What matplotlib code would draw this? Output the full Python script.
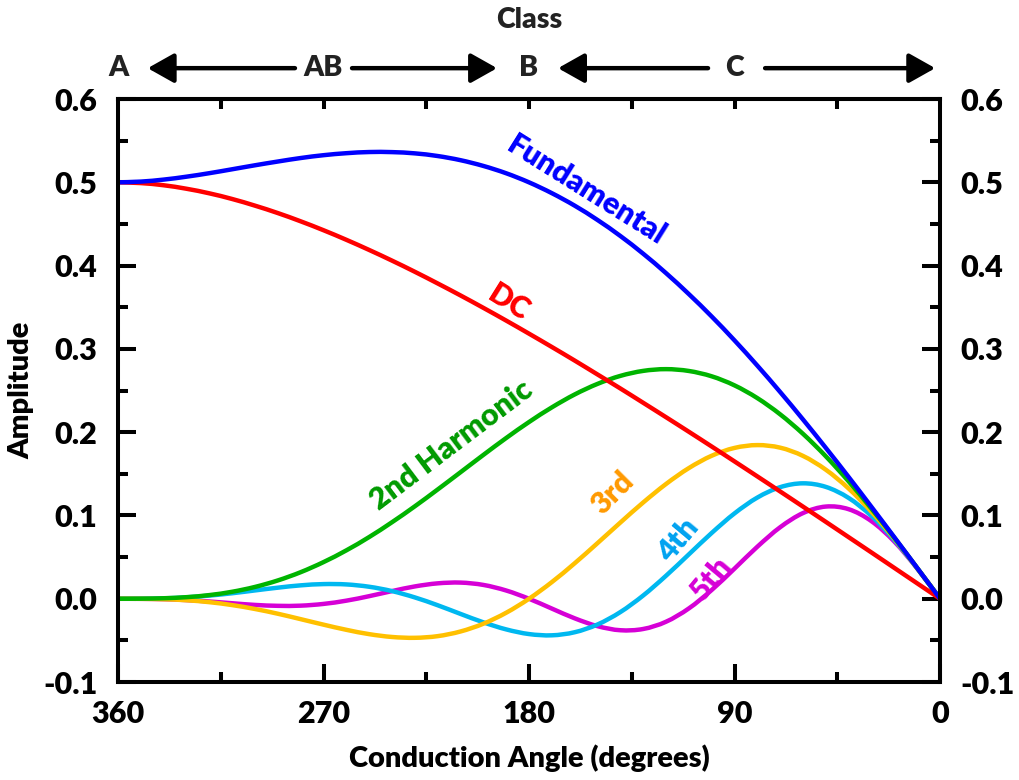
import matplotlib.pyplot as plt
import matplotlib.transforms as mtransforms
from matplotlib.path import Path
from matplotlib.patches import PathPatch
from matplotlib.ticker import MultipleLocator, FormatStrFormatter

# conduction angle (degrees) and normalised harmonic amplitudes
angle = [0, 10, 20, 30, 40, 50, 60, 70, 80, 90, 100, 110, 120, 130, 140, 150, 160, 170, 180,
         190, 200, 210, 220, 230, 240, 250, 260, 270, 280, 290, 300, 310, 320, 330, 340, 350, 360]

dc = [0, .0185, .0370, .0555, .0739, .0923, .1106, .1288, .1469, .1649, .1828, .2005, .2180,
      .2353, .2525, .2693, .2860, .3023, .3183, .3340, .3493, .3642, .3786, .3926, .4060, .4188,
      .4310, .4425, .4532, .4631, .4720, .4800, .4868, .4923, .4965, .4991, .5000]

fund = [0, .0370, .0738, .1102, .1461, .1811, .2152, .2482, .2799, .3102, .3389, .3658, .3910,
        .4143, .4356, .4548, .4720, .4870, .5000, .5109, .5197, .5266, .5316, .5348, .5363, .5364,
        .5350, .5326, .5292, .5250, .5205, .5157, .5110, .5068, .5033, .5009, .5000]

h2 = [0, .0369, .0732, .1080, .1408, .1710, .1980, .2214, .2409, .2562, .2671, .2735, .2757,
      .2736, .2676, .2580, .2453, .2298, .2122, .1930, .1727, .1519, .1312, .1110, .0919, .0741,
      .0581, .0440, .0319, .0220, .0142, .0084, .0044, .0019, .0006, .0001, 0]

h3 = [0, .0368, .0721, .1043, .1323, .1549, .1715, .1814, .1845, .1811, .1717, .1569, .1378,
      .1156, .0915, .0668, .0426, .0200, 0, -.0168, -.0300, -.0393, -.0449, -.0469, -.0459,
      -.0425, -.0373, -.0311, -.0245, -.0180, -.0123, -.0076, -.0041, -.0018, -.0006, -.0001, 0]

h4 = [0, .0366, .0705, .0993, .1210, .1343, .1386, .1340, .1215, .1025, .0790, .0533, .0276,
      .0039, -.0160, -.0309, -.0402, -.0439, -.0424, -.0368, -.0283, -.0182, -.0078, .0016,
      .0092, .0144, .0172, .0176, .0161, .0133, .0100, .0066, .0038, .0017, .0005, .0001, 0]

h5 = [0, .0363, .0686, .0931, .1075, .1107, .1029, .0859, .0625, .0362, .0105, -.0116, -.0276,
      -.0363, -.0378, -.0329, -.0235, -.0118, 0, .0099, .0166, .0194, .0185, .0148, .0092, .0031,
      -.0023, -.0062, -.0083, -.0085, -.0074, -.0054, -.0033, -.0016, -.0005, -.0001, 0]

plt.rcParams['font.family'] = ['Lato', 'DejaVu Sans']
plt.rcParams['font.weight'] = 'heavy'
plt.rcParams['axes.labelweight'] = 'heavy'


def smooth_line(ax, xs, ys, color, lw, z):
    # Catmull-Rom style cubic Bezier through the points (like a spreadsheet "smoothed line")
    pts = list(zip(xs, ys))
    n = len(pts)
    verts = [pts[0]]
    codes = [Path.MOVETO]
    for i in range(n - 1):
        p0 = pts[i - 1] if i > 0 else pts[i]
        p1 = pts[i]
        p2 = pts[i + 1]
        p3 = pts[i + 2] if i + 2 < n else pts[i + 1]
        c1 = (p1[0] + (p2[0] - p0[0]) / 6, p1[1] + (p2[1] - p0[1]) / 6)
        c2 = (p2[0] - (p3[0] - p1[0]) / 6, p2[1] - (p3[1] - p1[1]) / 6)
        verts += [c1, c2, p2]
        codes += [Path.CURVE4] * 3
    ax.add_patch(PathPatch(Path(verts, codes), facecolor='none', edgecolor=color,
                           linewidth=lw, capstyle='round', joinstyle='round', zorder=z))


fig = plt.figure(figsize=(10.19, 7.8), dpi=100)
ax = fig.add_axes([0.1158, 0.1256, 0.8067, 0.7474])

lw = 3.2
smooth_line(ax, angle, h5, '#D600D6', lw, 3)
smooth_line(ax, angle, h4, '#00B8F0', lw, 4)
smooth_line(ax, angle, h3, '#FFC000', lw, 5)
smooth_line(ax, angle, h2, '#00B400', lw, 6)
smooth_line(ax, angle, dc, '#FF0000', lw, 7)
smooth_line(ax, angle, fund, '#0000FF', lw, 8)

ax.set_xlim(360, 0)
ax.set_ylim(-0.1, 0.6)
ax.xaxis.set_major_locator(MultipleLocator(90))
ax.xaxis.set_minor_locator(MultipleLocator(45))
ax.yaxis.set_major_locator(MultipleLocator(0.1))
ax.yaxis.set_minor_locator(MultipleLocator(0.05))
ax.yaxis.set_major_formatter(FormatStrFormatter('%.1f'))

for sp in ax.spines.values():
    sp.set_linewidth(2.9)
    sp.set_zorder(10)

ax.tick_params(which='both', direction='in', width=2.9, labelsize=22,
               left=True, right=True, labelright=True, top=False)
ax.tick_params(which='major', length=13)
ax.tick_params(which='minor', length=7.5)
ax.tick_params(axis='y', which='major', pad=15)
ax.tick_params(axis='x', which='major', pad=13)

top = ax.secondary_xaxis('top')
top.set_xticks([315, 270, 225, 180, 135, 90, 45])
top.tick_params(direction='in', length=7.5, width=2.9, labeltop=False)
top.spines['top'].set_linewidth(2.9)

ax.set_xlabel('Conduction Angle (degrees)', fontsize=21, labelpad=12)
ax.set_ylabel('Amplitude', fontsize=21, labelpad=6)

# curve labels
ax.text(155, 0.49, 'Fundamental', color='#0000FF', fontsize=22, rotation=-32,
        ha='center', va='center')
ax.text(189, 0.356, 'DC', color='#FF0000', fontsize=22, rotation=-32,
        ha='center', va='center')
ax.text(214, 0.1845, '2nd Harmonic', color='#009A00', fontsize=22, rotation=37,
        ha='center', va='center')
ax.text(143.5, 0.127, '3rd', color='#FF9900', fontsize=22, rotation=45,
        ha='center', va='center')
ax.text(114.5, 0.07, '4th', color='#00A2F0', fontsize=22, rotation=50,
        ha='center', va='center')
ax.text(100, 0.025, '5th', color='#D600D6', fontsize=22, rotation=50,
        ha='center', va='center')

# amplifier class bands along the top
trans = mtransforms.blended_transform_factory(ax.transData, ax.transAxes)
yband = 1.053
for x, s in [(360, 'A'), (270, 'AB'), (180, 'B'), (90, 'C')]:
    ax.text(x, yband, s, transform=trans, fontsize=20.5, ha='center', va='center',
            color='#222222')
ax.text(180, 1.136, 'Class', transform=trans, fontsize=20.5, ha='center', va='center',
        color='#222222')

arrow_style = dict(arrowstyle='-|>,head_length=0.8,head_width=0.45', lw=3.2, color='black',
                   mutation_scale=20, shrinkA=0, shrinkB=0)
for tail, head in [(282.5, 347), (257.5, 194), (101.6, 167.3), (76.6, 2.1)]:
    ax.annotate('', xy=(head, yband), xytext=(tail, yband), xycoords=trans,
                textcoords=trans, arrowprops=arrow_style, annotation_clip=False)

fig.savefig('out.png', dpi=100)
